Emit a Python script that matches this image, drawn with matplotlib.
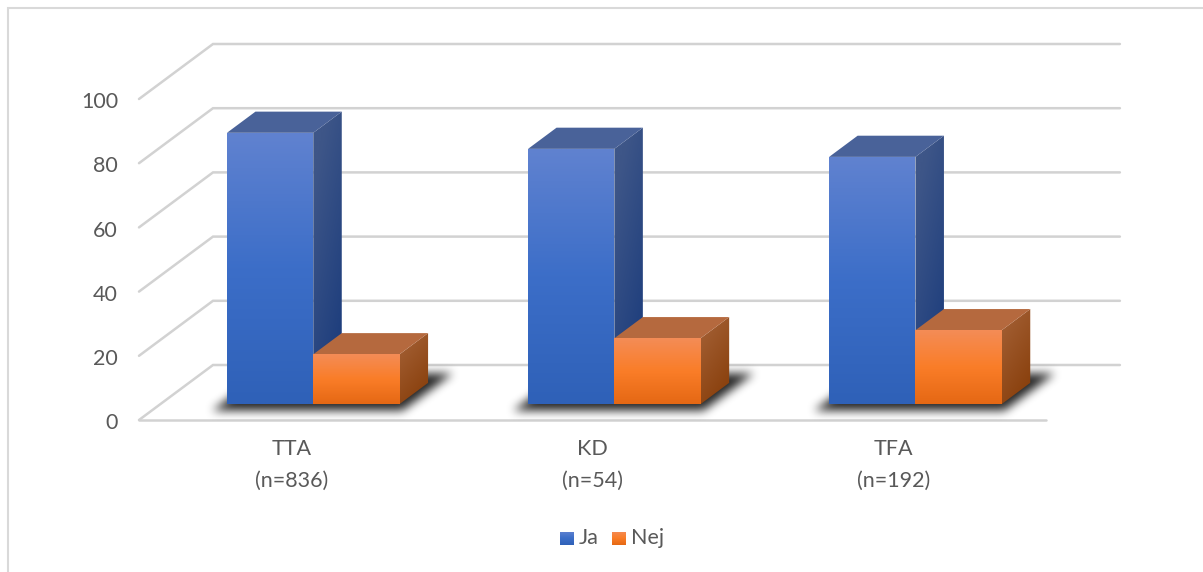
import numpy as np
import matplotlib
matplotlib.use('Agg')
from matplotlib import pyplot as plt
from matplotlib.path import Path
from matplotlib.patches import Polygon

categories = ['TTA\n(n=836)', 'KD\n(n=54)', 'TFA\n(n=192)']
ja_values = [84.5, 79.5, 77.0]
nej_values = [15.5, 20.5, 23.0]
y_ticks = [0, 20, 40, 60, 80, 100]
series_names = ['Ja', 'Nej']

W, H = 1203, 572
plt.rcParams['font.family'] = ['Lato', 'DejaVu Sans']
TEXT = '#595959'
GRID = '#d2d2d2'
FONT_SIZE = 15.5

# colours of each box: front top/bottom stops, side, lid
BLUE = dict(front=[(96, 130, 208), (60, 110, 200), (47, 97, 184)],
            side=[(62, 86, 136), (30, 62, 125)], top=(73, 98, 153))
ORANGE = dict(front=[(244, 140, 86), (250, 125, 40), (229, 104, 20)],
              side=[(160, 92, 48), (138, 65, 14)], top=(181, 105, 62))

# one category is 302.3 px wide, one value unit 3.21 px high
X_PX, Y_PX = 302.3, 3.21
X0, Y0 = 139, 420
# oblique projection of the depth axis, z=0 front edge, z=1 back wall
DEPTH_X, DEPTH_Y = 74 / X_PX, 55 / Y_PX
# groups sit a little closer than the floor width divided by three
STEP = 0.996

fig = plt.figure(figsize=(W / 100, H / 100), dpi=100)
ax = fig.add_axes([0, 0, 1, 1])
xlim = (-X0 / X_PX, (W - X0) / X_PX)
ylim = ((Y0 - H) / Y_PX, Y0 / Y_PX)


def proj(x, v, z):
    return x + z * DEPTH_X, v + z * DEPTH_Y


def gradient(stops, angle=0.0, n=64):
    # vertical colour ramp, angle tilts it sideways for the box sides
    t = np.linspace(0, 1, n)
    yy, xx = np.meshgrid(t, np.linspace(0, 1, 16), indexing='ij')
    s = np.clip(yy + angle * (xx - 0.5), 0, 1)
    pos = np.linspace(0, 1, len(stops))
    stops = np.array(stops) / 255
    return np.dstack([np.interp(s, pos, stops[:, i]) for i in range(3)])


def shaded_face(points, stops, angle=0.0, zorder=5):
    pts = np.array(points)
    poly = Polygon(pts, closed=True, transform=ax.transData, fc='none', ec='none')
    ax.add_patch(poly)
    im = ax.imshow(gradient(stops, angle), aspect='auto', zorder=zorder,
                   extent=(pts[:, 0].min(), pts[:, 0].max(), pts[:, 1].min(), pts[:, 1].max()),
                   interpolation='bilinear')
    im.set_clip_path(poly)


def box(x0, x1, value, colors, z0=0.29, z1=0.675, zorder=5):
    fl, fr = proj(x0, 0, z0), proj(x1, 0, z0)
    tl, tr = proj(x0, value, z0), proj(x1, value, z0)
    br, btr = proj(x1, 0, z1), proj(x1, value, z1)
    btl = proj(x0, value, z1)
    shaded_face([fr, br, btr, tr], colors['side'], 0.45, zorder)
    ax.add_patch(Polygon([tl, tr, btr, btl], fc=np.array(colors['top']) / 255, ec='none', zorder=zorder))
    shaded_face([fl, fr, tr, tl], colors['front'], 0.0, zorder)


def blur(a, radius, passes=3):
    kernel = np.ones(2 * radius + 1) / (2 * radius + 1)
    for _ in range(passes):
        a = np.apply_along_axis(np.convolve, 0, a, kernel, mode='same')
        a = np.apply_along_axis(np.convolve, 1, a, kernel, mode='same')
    return a


def floor_shadow(x0, x1, z0=0.17, z1=0.84):
    corners = [proj(x0, 0, z0), proj(x1, 0, z0), proj(x1, 0, z1), proj(x0, 0, z1)]
    left = min(c[0] for c in corners) - 0.12
    right = max(c[0] for c in corners) + 0.12
    low = min(c[1] for c in corners) - 12
    high = max(c[1] for c in corners) + 12
    nx, ny = int((right - left) * X_PX), int((high - low) * Y_PX)
    gx, gy = np.meshgrid(np.linspace(left, right, nx), np.linspace(high, low, ny))
    mask = Path(corners).contains_points(np.c_[gx.ravel(), gy.ravel()]).reshape(ny, nx)
    alpha = blur(mask.astype(float), 4)
    rgba = np.zeros((ny, nx, 4))
    rgba[..., 3] = alpha * 0.85
    ax.imshow(rgba, extent=(left, right, low, high), aspect='auto', zorder=3, interpolation='bilinear')


# walls and floor grid
for v in y_ticks:
    a, b = proj(0, v, 0), proj(0, v, 1)
    c = proj(len(categories), v, 1)
    ax.plot([a[0], b[0], c[0]], [a[1], b[1], c[1]], color=GRID, lw=1.8, zorder=1,
            solid_capstyle='round', solid_joinstyle='miter')
    ax.text(-21 / X_PX, v - 1.0, str(v), ha='right', va='center', fontsize=FONT_SIZE, color=TEXT)
ax.plot([0, len(categories)], [0, 0], color=GRID, lw=1.8, zorder=2, solid_capstyle='round')

bar_w = 0.2855
gap = 0.22
for i, name in enumerate(categories):
    x = i * STEP
    floor_shadow(x + gap - 0.02, x + gap + 2 * bar_w + 0.04)
    box(x + gap, x + gap + bar_w, ja_values[i], BLUE)
    box(x + gap + bar_w, x + gap + 2 * bar_w, nej_values[i], ORANGE, zorder=6)
    ax.text(x + 0.505, -6.0, name, ha='center', va='top', fontsize=FONT_SIZE, color=TEXT, linespacing=1.7)

ax.set_xlim(xlim)
ax.set_ylim(ylim)
ax.axis('off')

# chart area outline, only the top and left edges are inside the frame
fig.add_artist(plt.Line2D([8 / W, 8 / W, 1], [0, 1 - 8 / H, 1 - 8 / H], color='#d9d9d9', lw=1.5,
                          solid_joinstyle='miter'))

# legend
for name, colors, px in zip(series_names, [BLUE, ORANGE], [560, 612]):
    sw = fig.add_axes([px / W, 1 - 545 / H, 14 / W, 13 / H])
    sw.imshow(gradient(colors['front']), aspect='auto')
    sw.axis('off')
    fig.text((px + 19) / W, 1 - 538 / H, name, ha='left', va='center', fontsize=FONT_SIZE, color=TEXT)

fig.savefig('out.png', dpi=100)
